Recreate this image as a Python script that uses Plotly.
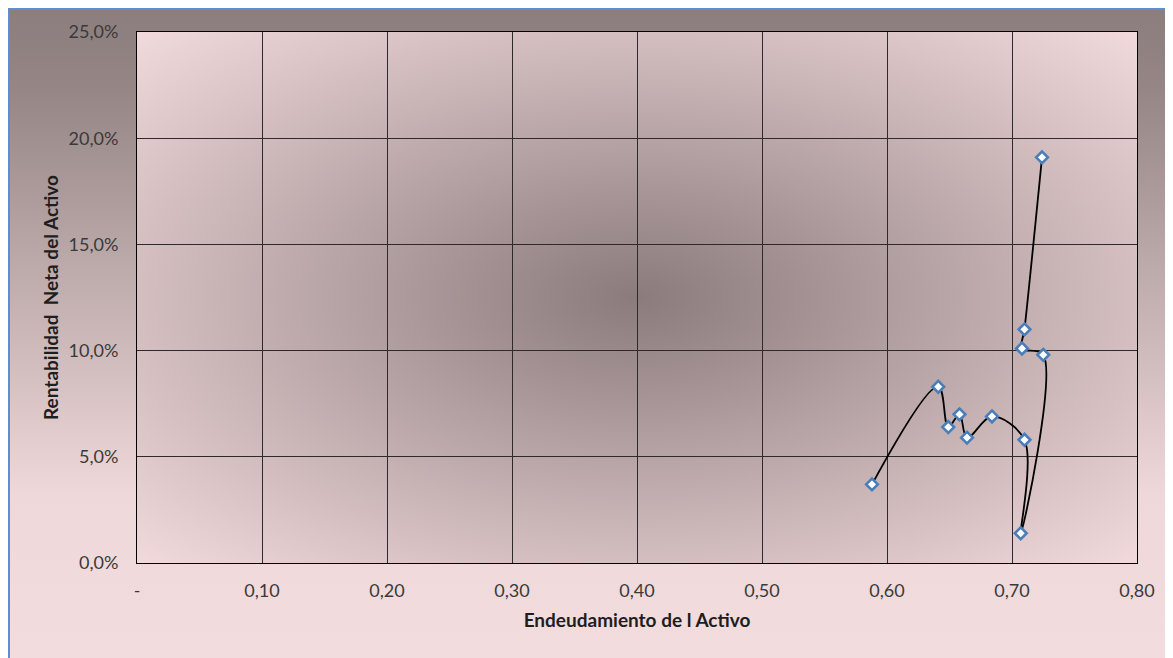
import base64
import plotly.graph_objects as go

# ---- data ----
endeudamiento = [0.588, 0.641, 0.649, 0.658, 0.664, 0.684, 0.710, 0.707, 0.725, 0.708, 0.710, 0.724]
rentabilidad = [0.037, 0.083, 0.064, 0.070, 0.059, 0.069, 0.058, 0.014, 0.098, 0.101, 0.110, 0.191]

x_tickvals = [0, 0.1, 0.2, 0.3, 0.4, 0.5, 0.6, 0.7, 0.8]
x_ticktext = ["-", "0,10", "0,20", "0,30", "0,40", "0,50", "0,60", "0,70", "0,80"]
y_tickvals = [0, 0.05, 0.10, 0.15, 0.20, 0.25]
y_ticktext = ["0,0%", "5,0%", "10,0%", "15,0%", "20,0%", "25,0%"]

x_title = "Endeudamiento de l Activo"
y_title = "Rentabilidad\u00a0 Neta del Activo"

# the page body has an 8px margin, so the figure starts at page (8, 8)
W, H = 1165, 650
L, T = 129, 24
PW, PH = 1000, 531
R, B = W - L - PW, H - T - PH


def svg_uri(svg):
    return "data:image/svg+xml;base64," + base64.b64encode(svg.encode()).decode()


paper_svg = (
    '<svg xmlns="http://www.w3.org/2000/svg" width="1200" height="700" viewBox="0 0 1200 700" '
    'preserveAspectRatio="none"><defs><linearGradient id="g" x1="0" y1="0" x2="0" y2="1">'
    '<stop offset="0" stop-color="#8c7e7e"/><stop offset="0.12" stop-color="#958585"/>'
    '<stop offset="0.75" stop-color="#efd8d9"/><stop offset="1" stop-color="#f3dcdd"/>'
    '</linearGradient></defs><rect width="1200" height="700" fill="url(#g)"/></svg>'
)
plot_svg = (
    '<svg xmlns="http://www.w3.org/2000/svg" width="1000" height="531" viewBox="0 0 1000 531" '
    'preserveAspectRatio="none"><defs><radialGradient id="r" cx="0.5" cy="0.5" r="0.72">'
    '<stop offset="0" stop-color="#8b7b7c"/><stop offset="1" stop-color="#f4dcde"/>'
    '</radialGradient></defs><rect width="1000" height="531" fill="url(#r)"/></svg>'
)

fig = go.Figure()
fig.add_trace(go.Scatter(
    x=endeudamiento, y=rentabilidad,
    mode="lines+markers",
    line=dict(color="black", width=1.8, shape="spline", smoothing=1),
    marker=dict(symbol="diamond", size=9, color="white",
                line=dict(color="#4a7ebb", width=2.6)),
    showlegend=False, hoverinfo="x+y",
))


def px_x(p):
    return (p - L) / PW


def px_y(p):
    return (H - B - p) / PH


fig.update_layout(
    width=W, height=H,
    margin=dict(l=L, r=R, t=T, b=B),
    paper_bgcolor="white",
    plot_bgcolor="rgba(0,0,0,0)",
    font=dict(family="Lato, 'Open Sans', sans-serif", size=18, color="#3a3a3a"),
    images=[
        dict(source=svg_uri(paper_svg), xref="paper", yref="paper",
             x=px_x(0), y=px_y(0), sizex=px_x(W) - px_x(0), sizey=px_y(0) - px_y(H),
             xanchor="left", yanchor="top", sizing="stretch", layer="below"),
        dict(source=svg_uri(plot_svg), xref="paper", yref="paper",
             x=0, y=1, sizex=1, sizey=1,
             xanchor="left", yanchor="top", sizing="stretch", layer="below"),
    ],
    shapes=[
        dict(type="rect", xref="paper", yref="paper",
             x0=px_x(1), y0=px_y(H + 5), x1=px_x(W + 5), y1=px_y(1),
             line=dict(color="#5b8fd4", width=2), fillcolor="rgba(0,0,0,0)", layer="above"),
    ],
    xaxis=dict(
        range=[0, 0.8], tickvals=x_tickvals, ticktext=x_ticktext,
        showgrid=True, gridcolor="#2e2a2a", gridwidth=1,
        showline=True, linecolor="black", linewidth=1, mirror=True,
        zeroline=False, ticks="", ticklabelstandoff=11,
        title=dict(text="<b>" + x_title + "</b>", font=dict(size=19, color="#1e1e1e"), standoff=14),
    ),
    yaxis=dict(
        range=[0, 0.25], tickvals=y_tickvals, ticktext=y_ticktext,
        showgrid=True, gridcolor="#2e2a2a", gridwidth=1,
        showline=True, linecolor="black", linewidth=1, mirror=True,
        zeroline=False, ticks="", ticklabelstandoff=14,
        title=dict(text="<b>" + y_title + "</b>", font=dict(size=19, color="#1e1e1e"), standoff=4),
    ),
)

fig.write_html("out.html")
